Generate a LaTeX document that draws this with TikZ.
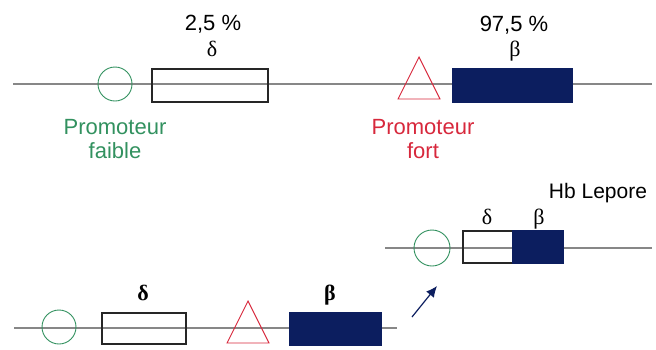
\documentclass[tikz,border=0pt]{standalone}
\usepackage{fontspec}
\setmainfont{Liberation Sans}
\newfontfamily\grk{Liberation Serif}
\usetikzlibrary{shapes.geometric,arrows.meta}
\definecolor{navy}{RGB}{12,30,95}
\definecolor{promgreen}{RGB}{50,145,95}
\definecolor{promred}{RGB}{215,40,60}
\definecolor{dnaline}{RGB}{135,135,135}
\begin{document}
\begin{tikzpicture}[x=1pt,y=-1pt,
  dna/.style={draw=dnaline,line width=1.3pt},
  weakprom/.style={circle,draw=promgreen,line width=0.9pt,minimum size=34pt,inner sep=0pt,outer sep=0pt},
  strongprom/.style={isosceles triangle,shape border rotate=90,isosceles triangle stretches,
     draw=promred,line width=0.9pt,minimum width=42pt,minimum height=42pt,inner sep=0pt,outer sep=0pt,anchor=apex},
  deltagene/.style={rectangle,draw=black!85,line width=1.3pt,inner sep=0pt,outer sep=0pt},
  betagene/.style={rectangle,draw=navy,fill=navy,line width=1.3pt,inner sep=0pt,outer sep=0pt},
  lbl/.style={font=\fontsize{22}{24}\selectfont,inner sep=0pt,anchor=base},
  promlbl/.style={font=\fontsize{22}{24}\selectfont,inner sep=0pt,anchor=north,align=center},
  grklbl/.style={font=\grk\fontsize{22}{24}\selectfont,inner sep=0pt,anchor=base},
  boldgrk/.style={font=\grk\bfseries\fontsize{22}{24}\selectfont,inner sep=0pt,anchor=base},
  movearrow/.style={draw=navy,line width=1.2pt,-{Latex[length=11pt,width=10pt]}}]
\useasboundingbox (0,0) rectangle (656,349);

% ---- top: normal locus ----
\coordinate (t0) at (13,84);
\coordinate (t1) at (652,84);
\draw[dna] (t0) -- (t1);
\node[weakprom] (tcirc) at (115,84) {};
\node[deltagene,minimum width=116pt,minimum height=33pt] (tdelta) at (210,85.5) {};
\node[strongprom] (ttri) at (419,57) {};
\node[betagene,minimum width=119pt,minimum height=33pt] (tbeta) at (512.5,85.5) {};
\node[lbl] (tpd) at (213,30) {2,5 \%};
\node[grklbl] (tdl) at (212,56) {δ};
\node[lbl] (tpb) at (514,31) {97,5 \%};
\node[grklbl] (tbl) at (515,56) {β};
\node[promlbl,text=promgreen] (pf) at (115,119) {Promoteur\\faible};
\node[promlbl,text=promred] (pfo) at (423,119) {Promoteur\\fort};

% ---- bottom left ----
\coordinate (b0) at (14,328);
\coordinate (b1) at (397,328);
\draw[dna] (b0) -- (b1);
\node[weakprom] (bcirc) at (59,327) {};
\node[deltagene,minimum width=84pt,minimum height=31pt] (bdelta) at (144,328.5) {};
\node[strongprom] (btri) at (248,301) {};
\node[betagene,minimum width=91pt,minimum height=32pt] (bbeta) at (335.5,329) {};
\node[boldgrk] (bdl) at (143,300) {δ};
\node[boldgrk] (bbl) at (330,300) {β};

% ---- right: Hb Lepore ----
\coordinate (r0) at (385,248);
\coordinate (r1) at (652,248);
\draw[dna] (r0) -- (r1);
\node[weakprom,minimum size=36pt] (rcirc) at (432,248) {};
\node[deltagene,minimum width=50pt,minimum height=32pt] (rdelta) at (488,247) {};
\node[betagene,minimum width=50pt,minimum height=32pt] (rbeta) at (538,247) {};
\node[grklbl] (rdl) at (487,224) {δ};
\node[grklbl] (rbl) at (539,224) {β};
\node[lbl,font=\fontsize{21}{24}\selectfont] (hb) at (598,198) {Hb Lepore};

% ---- arrow ----
\coordinate (a0) at (412,317);
\coordinate (a1) at (437,286);
\draw[movearrow] (a0) -- (a1);
\end{tikzpicture}
\end{document}
